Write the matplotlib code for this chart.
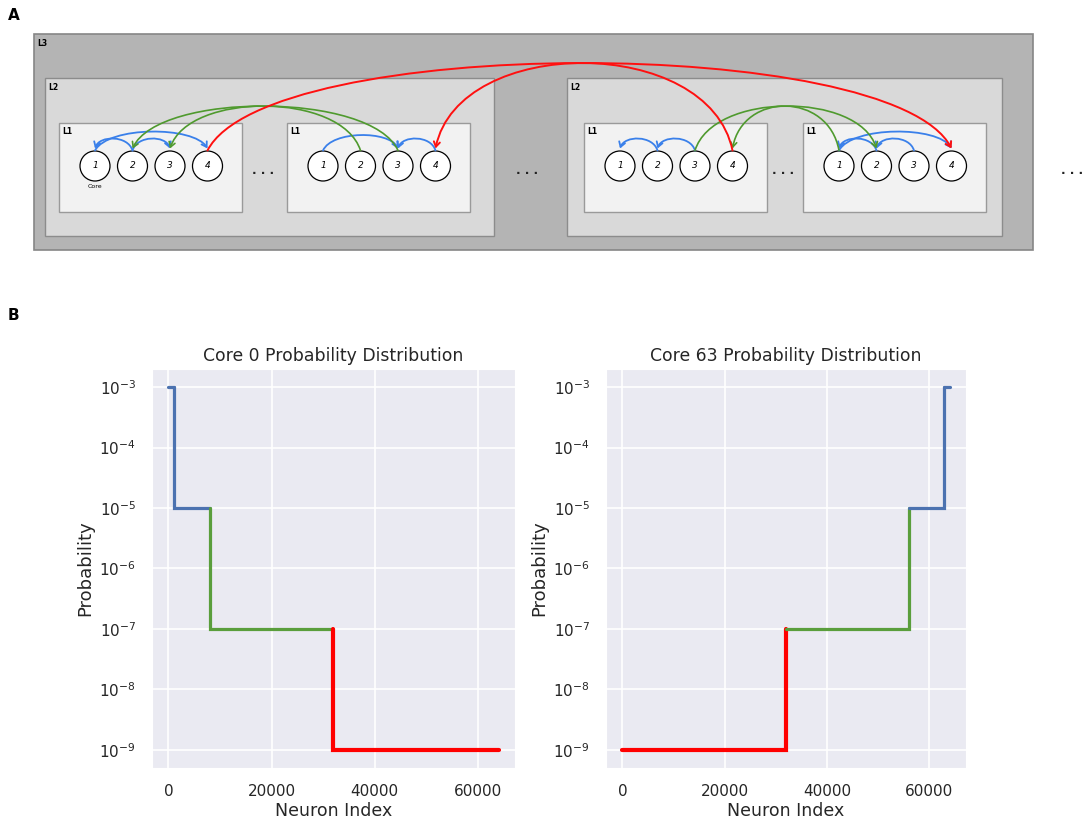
import numpy as np
import matplotlib.pyplot as plt
import seaborn as sns
from matplotlib.patches import Rectangle, Circle, FancyArrowPatch
from matplotlib.path import Path

# =========================
# Panel B data
# =========================
neuron_ticks = [0, 20000, 40000, 60000]
prob_ticks = [1e-9, 1e-8, 1e-7, 1e-6, 1e-5, 1e-4, 1e-3]

core0_edges = [0, 1000, 8000, 32000, 64000]
core0_prob = [1e-3, 1e-5, 1e-7, 1e-9]
core0_level = ['self', 'L1', 'L2', 'L3']

core63_edges = [0, 32000, 56000, 63000, 64000]
core63_prob = [1e-9, 1e-7, 1e-5, 1e-3]
core63_level = ['L3', 'L2', 'L1', 'self']

# =========================
# Panel A connections: (L1 box, core) -> (L1 box, core)
# =========================
blue_links = [((0, 1), (0, 0)), ((0, 1), (0, 2)), ((0, 0), (0, 3)),
              ((1, 0), (1, 2)), ((1, 3), (1, 2)),
              ((2, 1), (2, 0)), ((2, 2), (2, 1)),
              ((3, 1), (3, 0)), ((3, 2), (3, 1)), ((3, 0), (3, 3))]
green_links = [((1, 1), (0, 2)), ((1, 2), (0, 1)),
               ((2, 2), (3, 1)), ((3, 0), (2, 3))]
red_links = [((0, 3), (3, 3)), ((2, 3), (1, 3))]

core_names = ['1', '2', '3', '4']

sns.set_style('darkgrid')
plt.rcParams['font.family'] = ['DejaVu Sans']

fig = plt.figure(figsize=(10.84, 8.26), dpi=100)

# =========================
# Panel A: hierarchy diagram (pixel coordinates)
# =========================
ax0 = fig.add_axes([0, 0, 1, 1])
ax0.set_xlim(0, 1084)
ax0.set_ylim(826, 0)
ax0.axis('off')

ax0.text(14, 15, 'A', fontsize=11, fontweight='bold', ha='center', va='center', color='black')
ax0.text(13, 316, 'B', fontsize=11, fontweight='bold', ha='center', va='center', color='black')

# L3
ax0.add_patch(Rectangle((34, 34), 999, 216, fc='#b4b4b4', ec='#868686', lw=1.2))
ax0.text(37, 43, 'L3', fontsize=5.5, fontweight='bold', va='center', color='black')

# L2
l2_boxes = [(45, 78, 449, 158), (567, 78, 435, 158)]
for (x, y, w, h) in l2_boxes:
    ax0.add_patch(Rectangle((x, y), w, h, fc='#d9d9d9', ec='#8c8c8c', lw=1.0))
    ax0.text(x + 3, y + 9, 'L2', fontsize=5.5, fontweight='bold', va='center', color='black')

# L1
l1_left = [59, 287, 584, 803]
l1_top = 123
l1_w, l1_h = 183, 89
core_y = 166
core_r = 15


def core_x(b, c):
    return l1_left[b] + 36 + 37.5 * c


for b, x in enumerate(l1_left):
    ax0.add_patch(Rectangle((x, l1_top), l1_w, l1_h, fc='#f2f2f2', ec='#9a9a9a', lw=1.0))
    ax0.text(x + 3, l1_top + 9, 'L1', fontsize=5.5, fontweight='bold', va='center', color='black')
    for c, name in enumerate(core_names):
        ax0.add_patch(Circle((core_x(b, c), core_y), core_r, fc='white', ec='black', lw=0.9, zorder=3))
        ax0.text(core_x(b, c), core_y, name, fontsize=6.5, style='italic',
                 ha='center', va='center', zorder=4, color='black')

ax0.text(core_x(0, 0), 187, 'Core', fontsize=4.5, ha='center', va='center', color='black')

# ellipses
for x in [263, 527, 783, 1072]:
    ax0.text(x, 170, '. . .', fontsize=8.5, fontweight='bold', ha='center', va='center', color='#222222')


def link(src, dst, color, rise, lw, a=0.08):
    x0 = core_x(*src)
    x1 = core_x(*dst)
    y0 = core_y - core_r - 0.5
    y1 = core_y - core_r - 2.5
    yc = y0 - rise / 0.75
    L = x1 - x0
    verts = [(x0, y0), (x0 + a * L, yc), (x1 - a * L, yc), (x1, y1)]
    codes = [Path.MOVETO, Path.CURVE4, Path.CURVE4, Path.CURVE4]
    ax0.add_patch(FancyArrowPatch(path=Path(verts, codes),
                                  arrowstyle='->,head_length=0.35,head_width=0.22',
                                  mutation_scale=10, color=color, lw=lw, zorder=5))


for src, dst in blue_links:
    span = abs(dst[1] - src[1])
    link(src, dst, '#3a80ea', 8 + 3.5 * span, 1.3, a=0.12)
for src, dst in green_links:
    link(src, dst, '#4f9a2e', 44, 1.2, a=0.1)
for src, dst in red_links:
    link(src, dst, '#ff1010', 87, 1.4, a=0.08)

# =========================
# Panel B: probability distributions
# =========================
level_color = {'self': '#4c72b0', 'L1': '#4c72b0', 'L2': '#5a9e3c', 'L3': '#ff0000'}
level_lw = {'self': 2.3, 'L1': 2.3, 'L2': 2.3, 'L3': 3.0}


def step_pieces(edges, probs):
    pieces = []
    n = len(probs)
    for i in range(n):
        xs = [edges[i], edges[i + 1]]
        ys = [probs[i], probs[i]]
        if i > 0 and probs[i - 1] > probs[i]:
            xs.insert(0, edges[i])
            ys.insert(0, probs[i - 1])
        if i < n - 1 and probs[i + 1] > probs[i]:
            xs.append(edges[i + 1])
            ys.append(probs[i + 1])
        pieces.append((xs, ys))
    return pieces


axes_pos = [[0.1402, 0.0702, 0.3349, 0.4831], [0.5590, 0.0702, 0.3321, 0.4831]]
panels = [('Core 0 Probability Distribution', core0_edges, core0_prob, core0_level),
          ('Core 63 Probability Distribution', core63_edges, core63_prob, core63_level)]

for pos, (title, edges, probs, levels) in zip(axes_pos, panels):
    ax = fig.add_axes(pos)
    for (xs, ys), lev in zip(step_pieces(edges, probs), levels):
        ax.plot(xs, ys, color=level_color[lev], lw=level_lw[lev],
                solid_joinstyle='miter')
    ax.set_yscale('log')
    ax.set_ylim(10 ** -9.3, 10 ** -2.7)
    ax.set_yticks(prob_ticks)
    ax.minorticks_off()
    ax.set_xticks(neuron_ticks)
    ax.set_xticklabels([str(t) for t in neuron_ticks])
    ax.tick_params(labelsize=11, colors='.15')
    ax.tick_params(axis='x', pad=8)
    ax.tick_params(axis='y', pad=8)
    ax.set_title(title, fontsize=12.4, color='.15')
    ax.set_xlabel('Neuron Index', fontsize=12.5, color='.15', labelpad=2)
    ax.set_ylabel('Probability', fontsize=13, color='.15', labelpad=4)
    ax.grid(True, which='major', color='white', lw=1.2)

fig.savefig('out.png', dpi=100)
